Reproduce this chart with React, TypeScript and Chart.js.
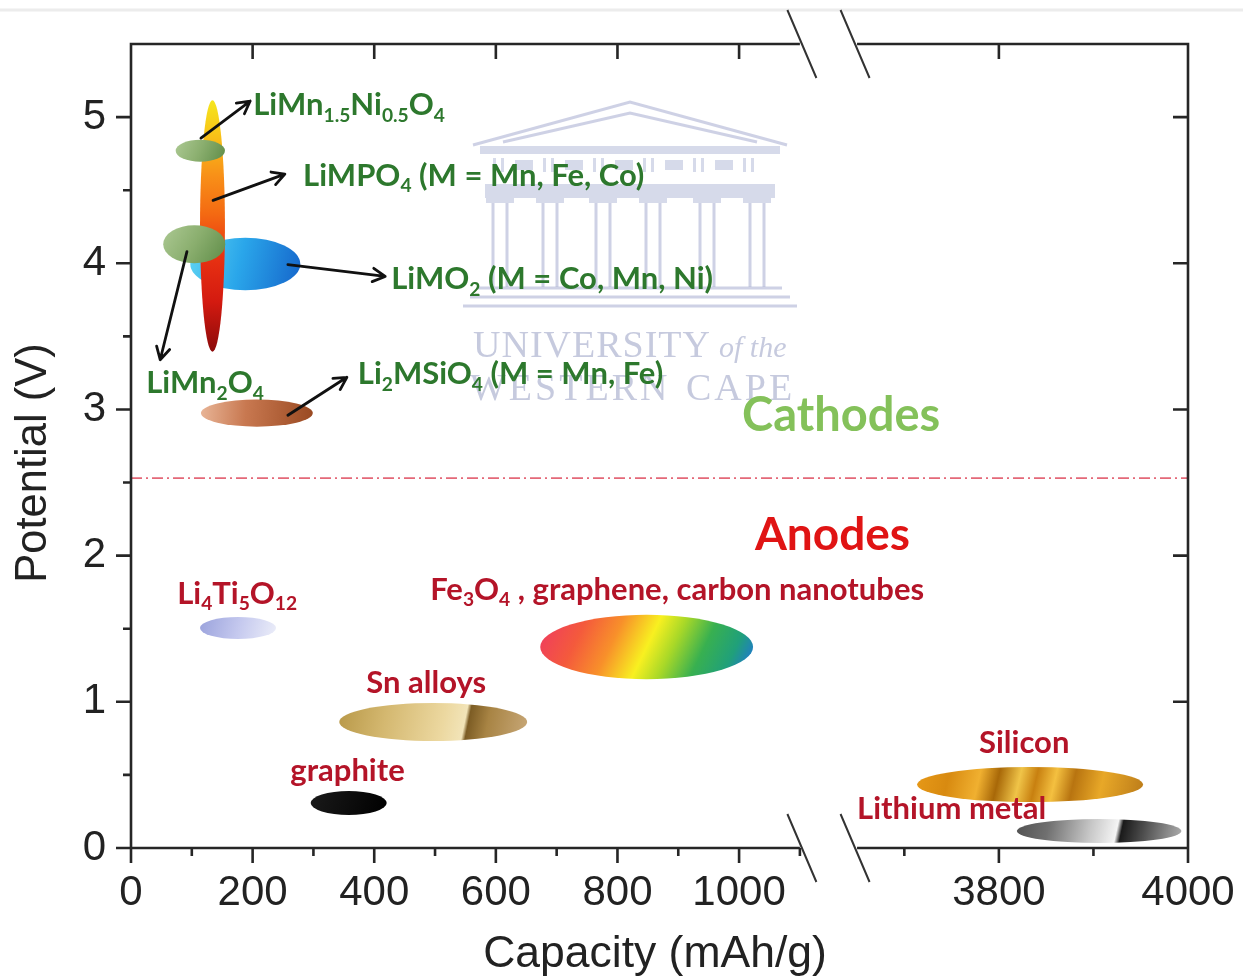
import React, { useEffect, useRef } from 'react';
import { Chart, registerables } from 'chart.js';

Chart.register(...registerables);

// ---------------- axis break ----------------
const LEFT_MAX = 1100; // last capacity on the left segment
const RIGHT_MIN = 3650; // first capacity on the right segment
const RIGHT_START_V = 1194; // virtual position where the right segment starts
const RIGHT_FACTOR = 1.555; // right segment stretch
const toV = (x: number) => (x <= LEFT_MAX + 50 ? x : RIGHT_START_V + (x - RIGHT_MIN) * RIGHT_FACTOR);
const X_VMAX = toV(4000);

// ---------------- ticks ----------------
const xMajorTicks = [0, 200, 400, 600, 800, 1000, 3800, 4000];
const xMinorTicks = [100, 300, 500, 700, 900, 1100, 3700, 3900];
const xAllTicks = [0, 100, 200, 300, 400, 500, 600, 700, 800, 900, 1000, 1100, 3700, 3800, 3900, 4000];
const yMajorTicks = [0, 1, 2, 3, 4, 5];
const yMinorTicks = [0.5, 1.5, 2.5, 3.5, 4.5];

// ---------------- materials (ellipses), draw order ----------------
const materials = ['LiMO2', 'LiMPO4', 'LiMn1.5Ni0.5O4', 'LiMn2O4', 'Li2MSiO4', 'Li4Ti5O12', 'graphite', 'Sn alloys', 'Fe3O4, graphene, CNT', 'Silicon', 'Lithium metal'];
const capacityCenter = [188, 134, 114, 104, 207, 176, 358, 497, 848, 3833, 3906];
const potentialCenter = [3.995, 4.255, 4.77, 4.13, 2.975, 1.505, 0.308, 0.862, 1.375, 0.434, 0.116];
const capacityWidth = [181, 41, 81, 102, 184, 125, 125, 309, 350, 239, 174];
const potentialHeight = [0.36, 1.72, 0.15, 0.26, 0.185, 0.15, 0.164, 0.26, 0.44, 0.24, 0.164];

// ---------------- arrows ----------------
const arrowFromCap = [115, 135, 92, 258, 258];
const arrowFromPot = [4.856, 4.43, 4.08, 3.99, 2.96];
const arrowToCap = [196, 253, 48, 418, 355];
const arrowToPot = [5.11, 4.61, 3.34, 3.91, 3.22];

// ---------------- labels ----------------
const labelTexts = [
  'LiMn_{1.5}Ni_{0.5}O_{4}',
  'LiMPO_{4} (M = Mn, Fe, Co)',
  'LiMO_{2} (M = Co, Mn, Ni)',
  'LiMn_{2}O_{4}',
  'Li_{2}MSiO_{4} (M = Mn, Fe)',
  'Cathodes',
  'Anodes',
  'Li_{4}Ti_{5}O_{12}',
  'Fe_{3}O_{4} , graphene, carbon nanotubes',
  'Sn alloys',
  'graphite',
  'Silicon',
  'Lithium metal',
];
const labelCapacity = [201, 283, 428, 25, 373, 1005, 1026, 76, 492, 387, 262, 3779, 3650];
const labelPotential = [5.08, 4.6, 3.89, 3.18, 3.24, 2.955, 2.14, 1.74, 1.765, 1.13, 0.53, 0.72, 0.27];
const labelKind = ['c', 'c', 'c', 'c', 'c', 'C', 'A', 'a', 'a', 'a', 'a', 'a', 'a'];

const separatorPotential = 2.53;

// ---------------- styles ----------------
type Fill = { dir: number[]; stops: [number, string][] };
const fills: Fill[] = [
  { dir: [-1, -0.5, 1, 0.5], stops: [[0, '#5cd2f2'], [0.45, '#2aa6ea'], [1, '#1668cc']] },
  { dir: [0, -1, 0, 1], stops: [[0, '#f5e61e'], [0.12, '#f8c818'], [0.3, '#f89018'], [0.45, '#f46a12'], [0.62, '#e83212'], [0.8, '#d41a10'], [1, '#8c0a0a']] },
  { dir: [-1, -1, 1, 1], stops: [[0, '#acc993'], [0.5, '#8aae6e'], [1, '#5f8c48']] },
  { dir: [-1, -1, 1, 1], stops: [[0, '#acc993'], [0.5, '#8aae6e'], [1, '#5f8c48']] },
  { dir: [-1, -0.3, 1, 0.3], stops: [[0, '#e8b496'], [0.4, '#c87850'], [1, '#9a4a22']] },
  { dir: [-1, -1, 1, 1], stops: [[0, '#9aa2dc'], [0.5, '#c4c8ee'], [1, '#eceef9']] },
  { dir: [-1, -1, 1, 1], stops: [[0, '#1a1a1a'], [1, '#000000']] },
  { dir: [-1, -1, 1, 1], stops: [[0, '#b89848'], [0.25, '#d4b870'], [0.55, '#ecd8a0'], [0.66, '#f2e4b8'], [0.68, '#7c5c24'], [0.78, '#a88444'], [1, '#c8a878']] },
  { dir: [-1, -1.6, 1, 1.6], stops: [[0.08, '#f0405a'], [0.22, '#f45a3c'], [0.36, '#f8902a'], [0.5, '#f8f020'], [0.6, '#a8d828'], [0.72, '#38b050'], [0.84, '#20a07a'], [0.93, '#2078d0']] },
  { dir: [-1, -1.5, 1, 1.5], stops: [[0, '#e89a18'], [0.15, '#d88a10'], [0.28, '#f0b030'], [0.36, '#a86808'], [0.45, '#f0c448'], [0.52, '#c88010'], [0.6, '#f4c040'], [0.68, '#b87410'], [0.8, '#e8a828'], [1, '#b87818']] },
  { dir: [-1, -1.5, 1, 1.5], stops: [[0, '#505050'], [0.2, '#707070'], [0.45, '#c8c8c8'], [0.6, '#f4f4f4'], [0.63, '#1a1a1a'], [0.75, '#4a4a4a'], [0.9, '#8a8a8a'], [1, '#b0b0b0']] },
];

const AXIS_FONT = "'Liberation Sans', Arial, sans-serif";
const LABEL_FONT = "Lato, 'Open Sans', sans-serif";
const AXIS_COLOR = '#262626';
const kindStyle: Record<string, { color: string; size: number }> = {
  c: { color: '#2d782d', size: 31 },
  a: { color: '#b41428', size: 31 },
  C: { color: '#84c15a', size: 47 },
  A: { color: '#e01414', size: 46 },
};

function drawRich(ctx: CanvasRenderingContext2D, text: string, x: number, y: number, size: number, color: string) {
  const parts: { t: string; sub: boolean }[] = [];
  const re = /_\{([^}]*)\}/g;
  let last = 0;
  let m: RegExpExecArray | null;
  while ((m = re.exec(text))) {
    if (m.index > last) parts.push({ t: text.slice(last, m.index), sub: false });
    parts.push({ t: m[1], sub: true });
    last = m.index + m[0].length;
  }
  if (last < text.length) parts.push({ t: text.slice(last), sub: false });
  ctx.fillStyle = color;
  ctx.textBaseline = 'middle';
  ctx.textAlign = 'left';
  let cx = x;
  for (const p of parts) {
    const s = p.sub ? size * 0.62 : size;
    ctx.font = `bold ${s}px ${LABEL_FONT}`;
    ctx.fillText(p.t, cx, p.sub ? y + size * 0.33 : y);
    cx += ctx.measureText(p.t).width;
  }
}

function arrow(ctx: CanvasRenderingContext2D, x0: number, y0: number, x1: number, y1: number) {
  const a = Math.atan2(y1 - y0, x1 - x0);
  ctx.beginPath();
  ctx.moveTo(x0, y0);
  ctx.lineTo(x1, y1);
  const L = 14;
  const sp = 0.5;
  ctx.moveTo(x1 - L * Math.cos(a - sp), y1 - L * Math.sin(a - sp));
  ctx.lineTo(x1, y1);
  ctx.lineTo(x1 - L * Math.cos(a + sp), y1 - L * Math.sin(a + sp));
  ctx.stroke();
}

function drawWatermark(ctx: CanvasRenderingContext2D, area: any) {
  const ox = area.left + 342;
  const oy = area.top + 56;
  const X = (v: number) => ox + v;
  const Y = (v: number) => oy + v;
  ctx.save();
  ctx.strokeStyle = 'rgba(165,172,208,0.55)';
  ctx.fillStyle = 'rgba(165,172,208,0.45)';
  ctx.lineWidth = 3;
  // roof
  ctx.beginPath();
  ctx.moveTo(X(0), Y(45));
  ctx.lineTo(X(157), Y(2));
  ctx.lineTo(X(314), Y(45));
  ctx.moveTo(X(30), Y(42));
  ctx.lineTo(X(157), Y(13));
  ctx.lineTo(X(284), Y(42));
  ctx.stroke();
  ctx.fillRect(X(7), Y(46), 300, 8);
  // frieze
  for (let i = 0; i < 6; i++) {
    const bx = X(20 + i * 50);
    ctx.fillRect(bx, Y(58), 3, 14);
    ctx.fillRect(bx + 8, Y(58), 3, 14);
    if (i < 5) ctx.fillRect(bx + 22, Y(60), 18, 10);
  }
  ctx.fillRect(X(12), Y(84), 290, 14);
  // columns
  const cols = [27, 77, 130, 180, 234, 284];
  for (const c of cols) {
    ctx.fillRect(X(c - 14), Y(98), 28, 5);
    ctx.beginPath();
    ctx.moveTo(X(c - 7), Y(103));
    ctx.lineTo(X(c - 7), Y(187));
    ctx.moveTo(X(c + 7), Y(103));
    ctx.lineTo(X(c + 7), Y(187));
    ctx.stroke();
  }
  // base steps
  ctx.beginPath();
  ctx.moveTo(X(5), Y(188)); ctx.lineTo(X(309), Y(188));
  ctx.moveTo(X(-3), Y(197)); ctx.lineTo(X(317), Y(197));
  ctx.moveTo(X(-10), Y(206)); ctx.lineTo(X(324), Y(206));
  ctx.stroke();
  // text
  ctx.fillStyle = 'rgba(160,166,200,0.6)';
  ctx.textBaseline = 'alphabetic';
  ctx.textAlign = 'left';
  ctx.font = "38px 'Liberation Serif', 'DejaVu Serif', serif";
  (ctx as any).letterSpacing = '1px';
  ctx.fillText('UNIVERSITY', X(0), Y(257));
  (ctx as any).letterSpacing = '0px';
  ctx.font = "italic 30px 'Liberation Serif', 'DejaVu Serif', serif";
  ctx.fillText('of the', X(246), Y(257));
  ctx.font = "38px 'Liberation Serif', 'DejaVu Serif', serif";
  (ctx as any).letterSpacing = '3px';
  ctx.fillText('WESTERN', X(-3), Y(300));
  ctx.fillText('CAPE', X(213), Y(300));
  (ctx as any).letterSpacing = '0px';
  ctx.restore();
}

const breakPlugin = {
  id: 'batteryMap',
  beforeDatasetsDraw(chart: any) {
    const { ctx, chartArea } = chart;
    const ys = chart.scales.y;
    drawWatermark(ctx, chartArea);
    // separator
    ctx.save();
    ctx.strokeStyle = '#e46878';
    ctx.lineWidth = 1.8;
    ctx.setLineDash([11, 4, 2, 4]);
    const yy = ys.getPixelForValue(separatorPotential);
    ctx.beginPath();
    ctx.moveTo(chartArea.left, yy);
    ctx.lineTo(chartArea.right, yy);
    ctx.stroke();
    ctx.restore();
  },
  afterDatasetsDraw(chart: any) {
    const { ctx } = chart;
    const xs = chart.scales.x;
    const ys = chart.scales.y;
    const px = (c: number) => xs.getPixelForValue(toV(c));
    const py = (p: number) => ys.getPixelForValue(p);
    // ellipses
    materials.forEach((_, i) => {
      const x0 = px(capacityCenter[i] - capacityWidth[i] / 2);
      const x1 = px(capacityCenter[i] + capacityWidth[i] / 2);
      const y0 = py(potentialCenter[i] + potentialHeight[i] / 2);
      const y1 = py(potentialCenter[i] - potentialHeight[i] / 2);
      const cx = (x0 + x1) / 2;
      const cy = (y0 + y1) / 2;
      const rx = (x1 - x0) / 2;
      const ry = (y1 - y0) / 2;
      const f = fills[i];
      const g = ctx.createLinearGradient(cx + f.dir[0] * rx, cy + f.dir[1] * ry, cx + f.dir[2] * rx, cy + f.dir[3] * ry);
      f.stops.forEach(([o, c]) => g.addColorStop(o, c));
      ctx.save();
      ctx.filter = 'blur(0.6px)';
      ctx.fillStyle = g;
      ctx.beginPath();
      ctx.ellipse(cx, cy, rx, ry, 0, 0, Math.PI * 2);
      ctx.fill();
      ctx.restore();
    });
    // arrows
    ctx.save();
    ctx.strokeStyle = '#111';
    ctx.lineWidth = 2.8;
    ctx.lineCap = 'round';
    ctx.lineJoin = 'round';
    arrowFromCap.forEach((_, i) => {
      arrow(ctx, px(arrowFromCap[i]), py(arrowFromPot[i]), px(arrowToCap[i]), py(arrowToPot[i]));
    });
    ctx.restore();
    // labels
    ctx.save();
    labelTexts.forEach((t, i) => {
      const st = kindStyle[labelKind[i]];
      drawRich(ctx, t, px(labelCapacity[i]), py(labelPotential[i]), st.size, st.color);
    });
    ctx.restore();
  },
  afterDraw(chart: any) {
    const { ctx, chartArea } = chart;
    const xs = chart.scales.x;
    const ys = chart.scales.y;
    const { left, right, top, bottom } = chartArea;
    const px = (c: number) => xs.getPixelForValue(toV(c));
    const py = (p: number) => ys.getPixelForValue(p);
    const bL = px(LEFT_MAX);
    const bR = px(RIGHT_MIN);
    ctx.save();
    // faint frame line at top of image
    ctx.strokeStyle = '#ececec';
    ctx.lineWidth = 3;
    ctx.beginPath();
    ctx.moveTo(0, 10);
    ctx.lineTo(chart.width, 10);
    ctx.stroke();

    ctx.strokeStyle = AXIS_COLOR;
    ctx.lineWidth = 2.6;
    ctx.lineCap = 'butt';
    ctx.beginPath();
    // left & right axes
    ctx.moveTo(left, top - 1.3); ctx.lineTo(left, bottom + 1.3);
    ctx.moveTo(right, top - 1.3); ctx.lineTo(right, bottom + 1.3);
    // top & bottom with break
    for (const yy of [top, bottom]) {
      ctx.moveTo(left, yy); ctx.lineTo(bL, yy);
      ctx.moveTo(bR, yy); ctx.lineTo(right, yy);
    }
    // y ticks
    yMajorTicks.forEach((v) => {
      const y = py(v);
      ctx.moveTo(left - 15, y); ctx.lineTo(left, y);
      ctx.moveTo(right - 15, y); ctx.lineTo(right, y);
    });
    yMinorTicks.forEach((v) => {
      const y = py(v);
      ctx.moveTo(left - 8, y); ctx.lineTo(left, y);
    });
    // x ticks
    xMajorTicks.forEach((v) => {
      const x = px(v);
      ctx.moveTo(x, bottom); ctx.lineTo(x, bottom + 15);
      ctx.moveTo(x, top); ctx.lineTo(x, top + 15);
    });
    xMinorTicks.forEach((v) => {
      const x = px(v);
      ctx.moveTo(x, bottom); ctx.lineTo(x, bottom + 8);
    });
    ctx.stroke();
    // break marks
    ctx.lineWidth = 2;
    ctx.strokeStyle = '#333';
    ctx.beginPath();
    for (const yy of [top, bottom]) {
      for (const xx of [bL + 2, bR - 2]) {
        ctx.moveTo(xx - 14.5, yy - 34);
        ctx.lineTo(xx + 14.5, yy + 34);
      }
    }
    ctx.stroke();
    // axis titles
    ctx.fillStyle = '#222';
    ctx.textAlign = 'center';
    ctx.textBaseline = 'middle';
    ctx.font = `44.5px ${AXIS_FONT}`;
    ctx.fillText('Capacity (mAh/g)', 655, 955);
    ctx.font = `43.5px ${AXIS_FONT}`;
    ctx.translate(34, 463);
    ctx.rotate(-Math.PI / 2);
    ctx.fillText('Potential (V)', 0, 0);
    ctx.restore();
  },
};

export default function App() {
  const ref = useRef<HTMLCanvasElement | null>(null);
  useEffect(() => {
    if (!ref.current) return;
    const chart = new Chart(ref.current, {
      type: 'scatter',
      data: {
        datasets: [
          {
            label: 'materials',
            data: capacityCenter.map((c, i) => ({ x: toV(c), y: potentialCenter[i] })),
            pointRadius: 0,
            pointHoverRadius: 0,
          },
        ],
      },
      options: {
        responsive: false,
        animation: false,
        events: [],
        layout: { padding: { top: 44, right: 55, left: 0, bottom: 0 } },
        plugins: { legend: { display: false }, tooltip: { enabled: false } },
        scales: {
          x: {
            type: 'linear',
            min: 0,
            max: X_VMAX,
            afterBuildTicks: (scale: any) => {
              scale.ticks = xAllTicks.map((v) => ({ value: toV(v) }));
            },
            afterFit: (scale: any) => {
              scale.height = 129;
              scale.paddingLeft = 0;
              scale.paddingRight = 0;
            },
            grid: { display: false, drawTicks: false },
            border: { display: false },
            ticks: {
              autoSkip: false,
              maxRotation: 0,
              padding: 20,
              color: '#222',
              font: { family: AXIS_FONT, size: 42 },
              callback: (_v: any, index: number) => {
                const c = xAllTicks[index];
                return xMajorTicks.includes(c) ? String(c) : '';
              },
            },
          },
          y: {
            type: 'linear',
            min: 0,
            max: 5.5,
            afterFit: (scale: any) => {
              scale.width = 131;
              scale.paddingTop = 0;
              scale.paddingBottom = 0;
            },
            grid: { display: false, drawTicks: false },
            border: { display: false },
            ticks: {
              stepSize: 0.5,
              padding: 25,
              color: '#222',
              font: { family: AXIS_FONT, size: 42 },
              callback: (v: any) => (Number.isInteger(v) && yMajorTicks.includes(v) ? String(v) : ''),
            },
          },
        },
      },
      plugins: [breakPlugin],
    });
    return () => chart.destroy();
  }, []);
  return (
    <div style={{ position: 'fixed', left: 0, top: 0, width: 1243, height: 977, background: '#fff' }}>
      <canvas ref={ref} width={1243} height={977} style={{ display: 'block' }} />
    </div>
  );
}
